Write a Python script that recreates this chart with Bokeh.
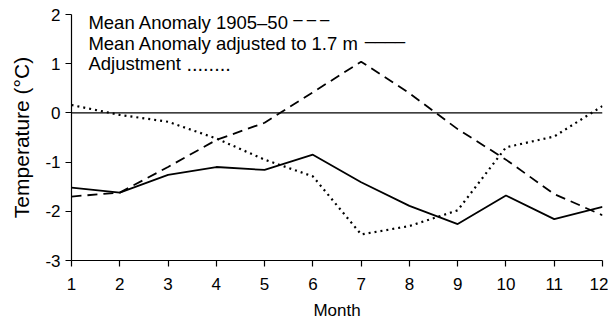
from bokeh.plotting import figure
from bokeh.models import Span, Label, FixedTicker, PrintfTickFormatter
from bokeh.embed import file_html
from bokeh.resources import INLINE

months = [1, 2, 3, 4, 5, 6, 7, 8, 9, 10, 11, 12]
mean_anomaly = [-1.70, -1.62, -1.10, -0.55, -0.20, 0.42, 1.04, 0.40, -0.33, -0.95, -1.65, -2.08]
adjusted = [-1.52, -1.62, -1.26, -1.10, -1.16, -0.85, -1.41, -1.89, -2.26, -1.68, -2.16, -1.91]
adjustment = [0.16, -0.04, -0.18, -0.52, -0.95, -1.29, -2.47, -2.30, -1.98, -0.70, -0.48, 0.14]
series_names = ["Mean Anomaly 1905\u201350", "Mean Anomaly adjusted to 1.7 m", "Adjustment"]
legend_marks = ["_ _ _", "____", "........"]
x_ticks = months
y_ticks = [-3, -2, -1, 0, 1, 2]

FONT = "Liberation Sans"

p = figure(width=608, height=322, x_range=(1, 12), y_range=(-3, 2),
           output_backend="svg", toolbar_location=None,
           min_border_left=71, min_border_right=6, min_border_top=14, min_border_bottom=61)
p.outline_line_color = None
p.xgrid.visible = False
p.ygrid.visible = False
p.background_fill_color = "white"
p.border_fill_color = "white"

for ax in (p.xaxis, p.yaxis):
    ax.axis_line_color = "black"
    ax.axis_line_width = 1.2
    ax.major_tick_line_color = "black"
    ax.major_tick_line_width = 1.2
    ax.major_tick_in = 0
    ax.major_tick_out = 6
    ax.minor_tick_line_color = None
    ax.major_label_text_font = FONT
    ax.major_label_text_font_size = "17px"
    ax.major_label_text_color = "black"
    ax.axis_label_text_font = FONT
    ax.axis_label_text_font_style = "normal"
    ax.axis_label_text_color = "black"
    ax.formatter = PrintfTickFormatter(format="%d")

p.xaxis.ticker = FixedTicker(ticks=x_ticks)
p.yaxis.ticker = FixedTicker(ticks=y_ticks)
p.xaxis.axis_label = "Month"
p.xaxis.axis_label_text_font_size = "17px"
p.xaxis.axis_label_standoff = 8
p.xaxis.major_label_standoff = 11
p.yaxis.axis_label = "Temperature (\u00b0C)"
p.yaxis.axis_label_text_font_size = "21px"
p.yaxis.axis_label_standoff = 9
p.yaxis.major_label_standoff = 5

p.add_layout(Span(location=0, dimension="width", line_color="black", line_width=1.2))

p.line(months, mean_anomaly, line_color="black", line_width=1.8, line_dash="10 6")
p.line(months, adjusted, line_color="black", line_width=1.8)
p.line(months, adjustment, line_color="black", line_width=2.2, line_dash="2 4")

rows_y = [1.84, 1.42, 1.0]
text_x = 1.35
mark_x = [5.6, 7.08, 3.38]
mark_dy = [0.2, 0.2, 0.0]
mark_size = ["16px", "18px", "20px"]
for name, mark, yy, mx, dy, ms in zip(series_names, legend_marks, rows_y, mark_x, mark_dy, mark_size):
    p.add_layout(Label(x=text_x, y=yy, text=name, text_font=FONT, text_font_size="18.5px",
                       text_color="black", text_baseline="middle"))
    p.add_layout(Label(x=mx, y=yy + dy, text=mark, text_font=FONT, text_font_size=ms,
                       text_color="black", text_baseline="middle"))

open("out.html", "w").write(file_html(p, INLINE))
